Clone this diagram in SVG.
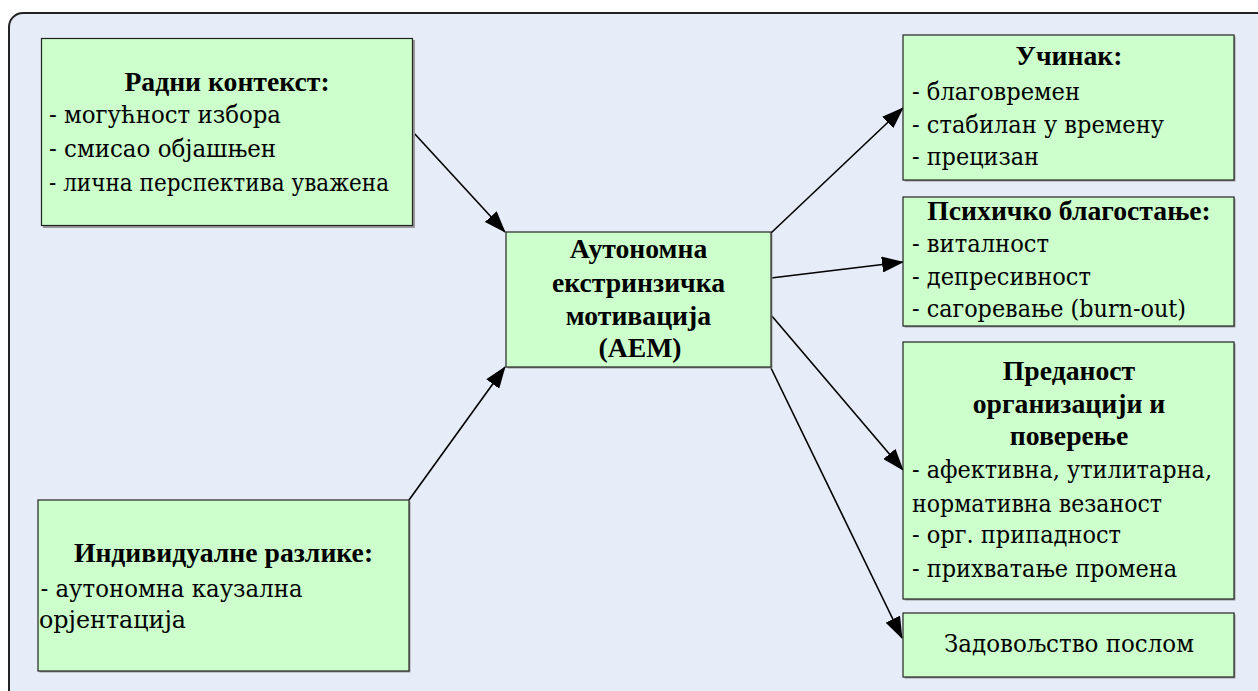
<svg xmlns="http://www.w3.org/2000/svg" width="1258" height="691" viewBox="0 0 1258 691">
  <style>
    .frame { fill: #e6ecf8; stroke: #222; stroke-width: 2; }
    .box { fill: #ccffcc; stroke: #222; stroke-width: 1.2; }
    .shadow { fill: #9a9a9a; }
    text { font-family: "DejaVu Serif", "Liberation Serif", serif; font-size: 24px; fill: #000; }
    .t { font-family: "Liberation Serif", "DejaVu Serif", serif; font-size: 27.7px; font-weight: 700; text-anchor: middle; }
    .c { text-anchor: middle; }
    .edge { stroke: #000; stroke-width: 1.6; fill: none; marker-end: url(#arrow); }
  </style>
  <defs>
    <marker id="arrow" markerUnits="userSpaceOnUse" markerWidth="22" markerHeight="16" viewBox="0 0 22 16" refX="21" refY="8" orient="auto">
      <path d="M0,0 L22,8 L0,16 Z" fill="#000"/>
    </marker>
  </defs>

  <!-- outer panel -->
  <rect class="frame" x="9" y="13" width="1262" height="692" rx="14"/>

  <!-- connectors -->
  <g id="connectors">
    <line class="edge" x1="413" y1="132" x2="505" y2="232"/>
    <line class="edge" x1="409" y1="500" x2="505" y2="367"/>
    <line class="edge" x1="771" y1="233" x2="903" y2="108"/>
    <line class="edge" x1="771" y1="278" x2="903" y2="262"/>
    <line class="edge" x1="771" y1="315" x2="903" y2="470"/>
    <line class="edge" x1="771" y1="368" x2="902" y2="638"/>
  </g>

  <!-- work context -->
  <g id="work-context">
    <rect class="shadow" x="43" y="40" width="372" height="188"/>
    <rect class="box" x="41.5" y="38.5" width="371" height="187"/>
    <text class="t" x="227" y="91">Радни контекст:</text>
    <text x="49" y="123" textLength="232" lengthAdjust="spacingAndGlyphs">- могућност избора</text>
    <text x="49" y="157" textLength="227" lengthAdjust="spacingAndGlyphs">- смисао објашњен</text>
    <text x="49" y="191" textLength="340" lengthAdjust="spacingAndGlyphs">- лична перспектива уважена</text>
  </g>

  <!-- individual differences -->
  <g id="individual-differences">
    <rect class="shadow" x="39.5" y="501.5" width="371" height="171"/>
    <rect class="box" x="38" y="500" width="371" height="171"/>
    <text class="t" x="223.5" y="562">Индивидуалне разлике:</text>
    <text x="40.5" y="597" textLength="262" lengthAdjust="spacingAndGlyphs">- аутономна каузална</text>
    <text x="39" y="628" textLength="147" lengthAdjust="spacingAndGlyphs">орјентација</text>
  </g>

  <!-- autonomous extrinsic motivation -->
  <g id="aem">
    <rect class="shadow" x="507.5" y="233.5" width="265" height="135"/>
    <rect class="box" x="506" y="232" width="265" height="135"/>
    <text class="t" x="638.5" y="258">Аутономна</text>
    <text class="t" x="638.5" y="292">екстринзичка</text>
    <text class="t" x="638.5" y="325">мотивација</text>
    <text class="t" x="640" y="357">(АЕМ)</text>
  </g>

  <!-- performance -->
  <g id="performance">
    <rect class="shadow" x="904.5" y="36.5" width="331" height="145"/>
    <rect class="box" x="903" y="35" width="331" height="145"/>
    <text class="t" x="1069" y="65">Учинак:</text>
    <text x="912" y="100" textLength="168" lengthAdjust="spacingAndGlyphs">- благовремен</text>
    <text x="912" y="133" textLength="252" lengthAdjust="spacingAndGlyphs">- стабилан у времену</text>
    <text x="912" y="165" textLength="127" lengthAdjust="spacingAndGlyphs">- прецизан</text>
  </g>

  <!-- psychological well-being -->
  <g id="well-being">
    <rect class="shadow" x="904.5" y="198.5" width="331" height="129"/>
    <rect class="box" x="903" y="197" width="331" height="129"/>
    <text class="t" x="1069" y="220">Психичко благостање:</text>
    <text x="912" y="252" textLength="137" lengthAdjust="spacingAndGlyphs">- виталност</text>
    <text x="912" y="285" textLength="179" lengthAdjust="spacingAndGlyphs">- депресивност</text>
    <text x="912" y="317" textLength="274" lengthAdjust="spacingAndGlyphs">- сагоревање (burn-out)</text>
  </g>

  <!-- organizational commitment -->
  <g id="commitment">
    <rect class="shadow" x="904.5" y="343.5" width="331" height="257"/>
    <rect class="box" x="903" y="342" width="331" height="257"/>
    <text class="t" x="1069" y="380">Преданост</text>
    <text class="t" x="1069" y="413">организацији и</text>
    <text class="t" x="1069" y="445">поверење</text>
    <text x="912" y="478" textLength="300" lengthAdjust="spacingAndGlyphs">- афективна, утилитарна,</text>
    <text x="912" y="512" textLength="250" lengthAdjust="spacingAndGlyphs">нормативна везаност</text>
    <text x="912" y="543" textLength="209" lengthAdjust="spacingAndGlyphs">- орг. припадност</text>
    <text x="912" y="577" textLength="265" lengthAdjust="spacingAndGlyphs">- прихватање промена</text>
  </g>

  <!-- job satisfaction -->
  <g id="job-satisfaction">
    <rect class="shadow" x="904.5" y="614.5" width="331" height="64"/>
    <rect class="box" x="903" y="613" width="331" height="64"/>
    <text class="c" x="1069" y="652" textLength="250" lengthAdjust="spacingAndGlyphs">Задовољство послом</text>
  </g>
</svg>
